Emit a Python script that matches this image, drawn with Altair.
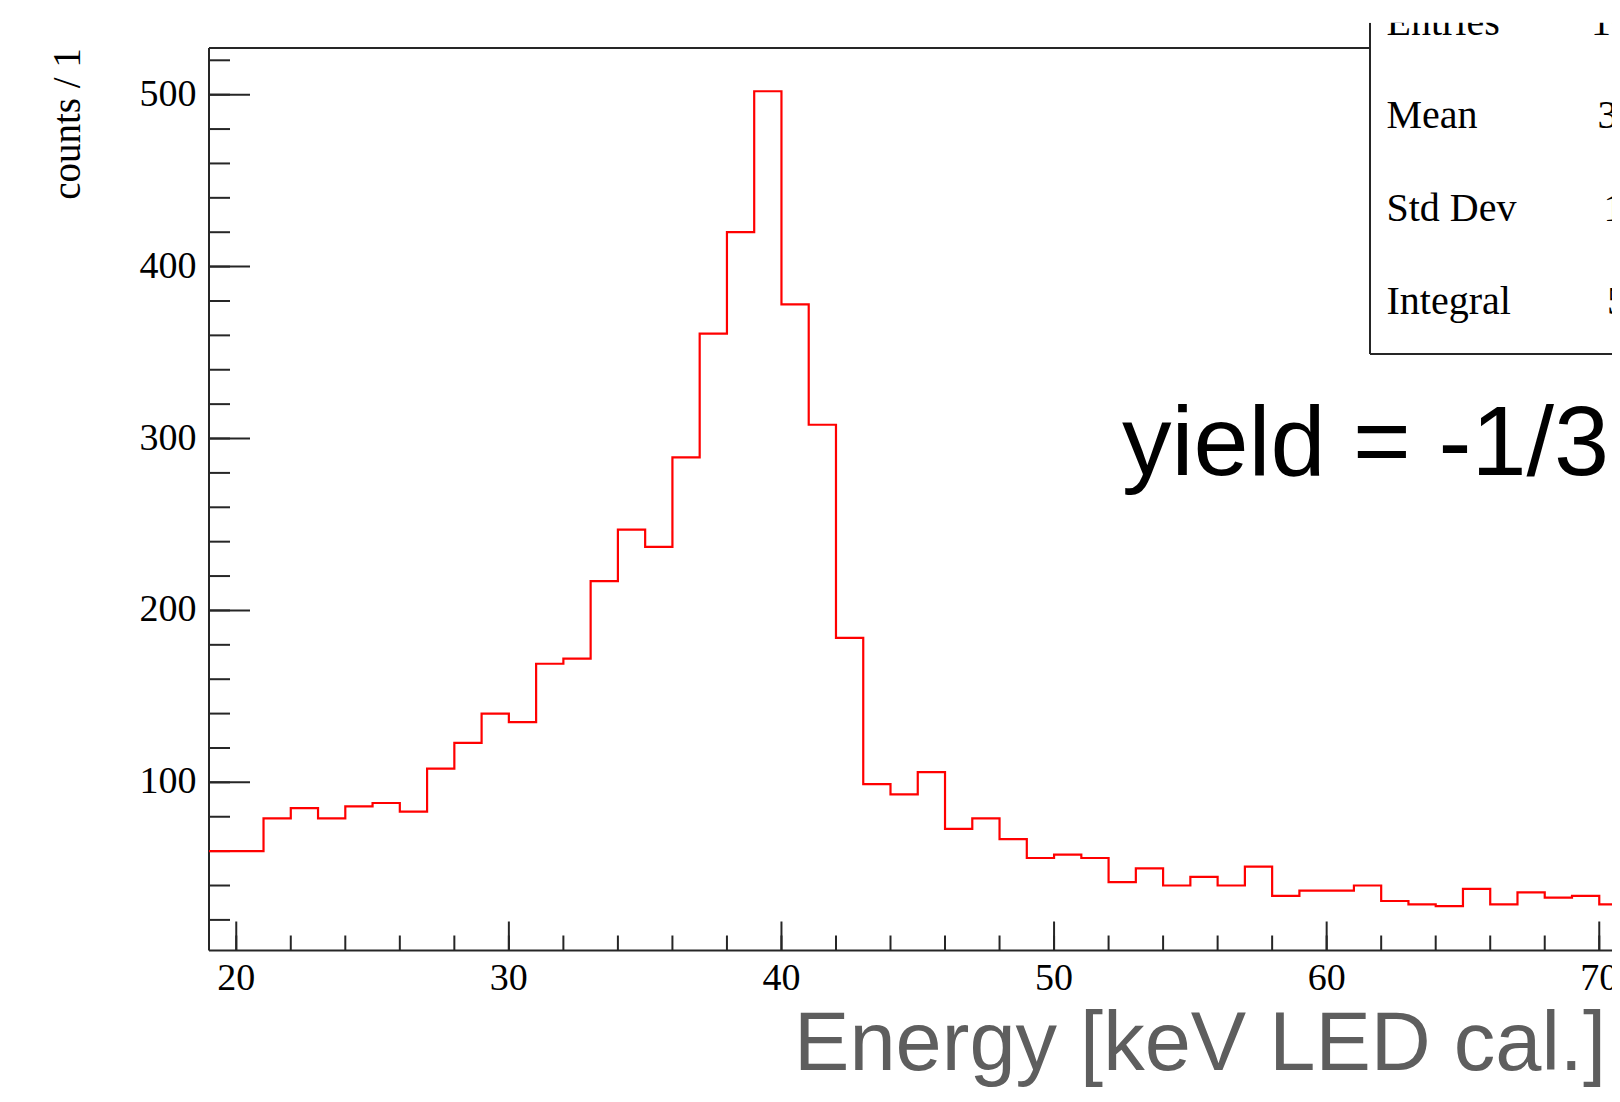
import altair as alt
import pandas as pd

# ---------------- data ----------------
bin_left = list(range(19, 71))  # left edges of 1-keV bins, 19..70
counts = [60, 60, 79, 85, 79, 86, 88, 83, 108, 123,
          140, 135, 169, 172, 217, 247, 237, 289, 361, 420,
          502, 378, 308, 184, 99, 93, 106, 73, 79, 67,
          56, 58, 56, 42, 50, 40, 45, 40, 51, 34,
          37, 37, 40, 31, 29, 28, 38, 29, 36, 33,
          34, 29]
x_major = [20, 30, 40, 50, 60, 70]
x_minor = list(range(20, 71, 2))
y_major = [100, 200, 300, 400, 500]
y_minor = list(range(20, 521, 20))
x_labels = [str(v) for v in x_major]
y_labels = [str(v) for v in y_major]
stat_names = ["Entries", "Mean", "Std Dev", "Integral"]
stat_values = ["10312", "39.61", "19.05", "5871"]
x_title = "Energy [keV LED cal.]"
y_title = "counts / 1"
note = "yield = -1/3"

# ---------------- layout / style ----------------
PAD_L, PAD_T = 201, 40
SVG_W, SVG_H = 1604, 1080
W, H = SVG_W - PAD_L, 902.5
PX_PER_KEV = 27.26
PAD = {"left": PAD_L, "top": PAD_T, "right": 0, "bottom": SVG_H - PAD_T - H}
AX = "#262626"
SERIF = "Liberation Serif"
SANS = "Liberation Sans"

xscale = alt.Scale(domain=[19, 19 + W / PX_PER_KEV], nice=False, zero=False)
yscale = alt.Scale(domain=[2.2, 527.15], nice=False, zero=False)

hist_df = pd.DataFrame({
    "energy": bin_left + [bin_left[-1] + 1],
    "counts": counts + [counts[-1]],
})

hist = alt.Chart(hist_df).mark_line(
    interpolate="step-after", color="#ff0000", strokeWidth=2.2, clip=True
).encode(
    x=alt.X("energy:Q", scale=xscale, axis=None),
    y=alt.Y("counts:Q", scale=yscale, axis=None),
)

one = pd.DataFrame({"a": [0]})


def rule(**enc):
    return alt.Chart(one).mark_rule(color=AX, strokeWidth=2).encode(**enc)


# frame: left axis, bottom axis, top line
left_axis = rule(x=alt.value(0), y=alt.value(0), y2=alt.value(H))
bottom_axis = rule(x=alt.value(0), x2=alt.value(W), y=alt.value(H))
top_frame = rule(x=alt.value(0), x2=alt.value(W), y=alt.value(0))

# ticks (ROOT style: inside the frame)
ytick_major = alt.Chart(pd.DataFrame({"v": y_major})).mark_rule(color=AX, strokeWidth=2).encode(
    y=alt.Y("v:Q", scale=yscale, axis=None), x=alt.value(0), x2=alt.value(41))
ytick_minor = alt.Chart(pd.DataFrame({"v": y_minor})).mark_rule(color=AX, strokeWidth=2).encode(
    y=alt.Y("v:Q", scale=yscale, axis=None), x=alt.value(0), x2=alt.value(21))
xtick_major = alt.Chart(pd.DataFrame({"v": x_major})).mark_rule(color=AX, strokeWidth=2).encode(
    x=alt.X("v:Q", scale=xscale, axis=None), y=alt.value(H), y2=alt.value(H - 29))
xtick_minor = alt.Chart(pd.DataFrame({"v": x_minor})).mark_rule(color=AX, strokeWidth=2).encode(
    x=alt.X("v:Q", scale=xscale, axis=None), y=alt.value(H), y2=alt.value(H - 15))

# tick labels
ylab = alt.Chart(pd.DataFrame({"v": y_major, "t": y_labels})).mark_text(
    align="right", baseline="middle", font=SERIF, fontSize=38, color="black"
).encode(y=alt.Y("v:Q", scale=yscale, axis=None), x=alt.value(-12.5), text="t:N")
xlab = alt.Chart(pd.DataFrame({"v": x_major, "t": x_labels})).mark_text(
    align="center", baseline="top", font=SERIF, fontSize=38, color="black"
).encode(x=alt.X("v:Q", scale=xscale, axis=None), y=alt.value(H + 9), text="t:N")

# axis titles
xtitle = alt.Chart(one).mark_text(
    text=x_title, align="right", baseline="alphabetic", font=SANS, fontSize=83, color="#5e5e5e"
).encode(x=alt.value(1397), y=alt.value(H + 119.5))
ytitle = alt.Chart(one).mark_text(
    text=y_title, align="center", baseline="alphabetic", font=SERIF, fontSize=39, color="black",
    angle=270
).encode(x=alt.value(-129), y=alt.value(76))

# stats box (cut by the right edge of the picture)
BOX_L, BOX_T, BOX_B, BOX_R = 1161, -25.3, 306, W + 20
box_fill = alt.Chart(one).mark_rect(fill="white").encode(
    x=alt.value(BOX_L), x2=alt.value(BOX_R), y=alt.value(BOX_T), y2=alt.value(BOX_B))
box_left = rule(x=alt.value(BOX_L), y=alt.value(BOX_T), y2=alt.value(BOX_B))
box_bottom = rule(x=alt.value(BOX_L), x2=alt.value(BOX_R), y=alt.value(BOX_B))

row_y = [-13, 80, 173, 266]
val_x = [1382, 1388.6, 1394.4, 1398]
stat_layers = []
for name, val, ry, vx in zip(stat_names, stat_values, row_y, val_x):
    stat_layers.append(alt.Chart(one).mark_text(
        text=name, align="left", baseline="alphabetic", font=SERIF, fontSize=40, color="black"
    ).encode(x=alt.value(1177.5), y=alt.value(ry)))
    stat_layers.append(alt.Chart(one).mark_text(
        text=val, align="left", baseline="alphabetic", font=SERIF, fontSize=40, color="black"
    ).encode(x=alt.value(vx), y=alt.value(ry)))

cover = alt.Chart(one).mark_rect(fill="white").encode(
    x=alt.value(BOX_L - 2), x2=alt.value(BOX_R), y=alt.value(-45), y2=alt.value(BOX_T))

note_text = alt.Chart(one).mark_text(
    text=note, align="left", baseline="alphabetic", font=SANS, fontSize=99, color="black"
).encode(x=alt.value(913), y=alt.value(427))

chart = alt.layer(
    ytick_minor, ytick_major, xtick_minor, xtick_major,
    left_axis, bottom_axis, top_frame,
    ylab, xlab, xtitle, ytitle,
    hist, box_fill, box_left, box_bottom, *stat_layers, cover, note_text
).properties(
    width=W, height=H,
    autosize=alt.AutoSizeParams(type="none"),
    padding=PAD,
).configure_view(stroke=None)

chart.save("out.html", embed_options={"renderer": "svg", "actions": False})
